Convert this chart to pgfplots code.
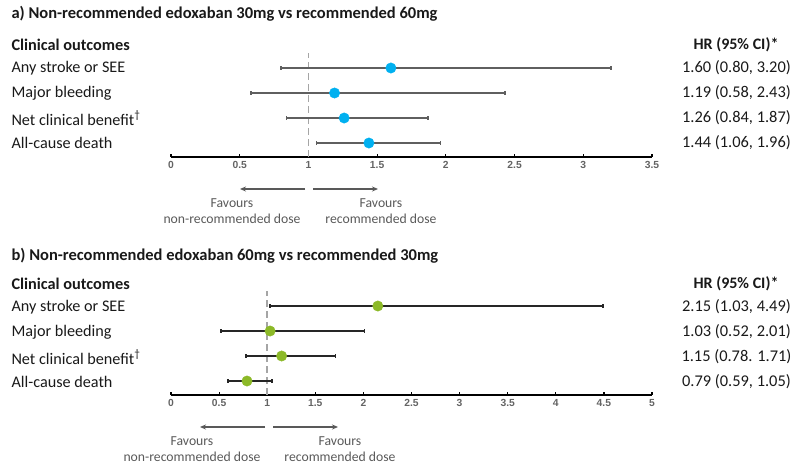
\documentclass[border=0pt]{standalone}
\usepackage{pgfplots}
\pgfplotsset{compat=1.18}
\usepackage{fontspec}
\setmainfont{Carlito}
\newfontfamily\tickfont{Liberation Sans}
\usetikzlibrary{arrows.meta}

\definecolor{ablue}{RGB}{0,176,240}
\definecolor{bgreen}{RGB}{140,185,40}
\definecolor{ciA}{RGB}{95,95,95}
\definecolor{ciB}{RGB}{38,38,38}
\definecolor{txt}{RGB}{25,25,25}
\definecolor{favc}{RGB}{89,89,89}
\definecolor{dashc}{RGB}{165,165,165}
\definecolor{tickc}{RGB}{100,100,100}

\pgfplotsset{forest/.style={
  scale only axis, width=481pt, height=104pt,
  ymin=0, ymax=104,
  axis x line=bottom, axis y line=none,
  axis line style={line width=1.8pt, -},
  major tick length=3.5pt, tick align=inside,
  xtick style={line width=1.2pt, black},
  /pgf/number format/assume math mode=true,
  xticklabel style={font=\tickfont\bfseries\fontsize{10.3}{12}\selectfont, text=tickc, yshift=-1pt},
  clip=false, anchor=south west},
  ci/.style={line width=1.8pt, mark=|, mark size=1.6pt, mark options={solid, line width=1.6pt}},
  refline/.style={dashc, line width=1.7pt, dash pattern=on 7pt off 4pt}
}

\begin{document}
\begin{tikzpicture}
\useasboundingbox (0,0) rectangle (793pt,-467pt);

% ---------- Panel a ----------
\begin{axis}[forest, at={(171pt,-157pt)}, xmin=0, xmax=3.5,
  xtick={0,0.5,1,1.5,2,2.5,3,3.5}]
\addplot[refline] coordinates {(1,0) (1,104)};
\addplot[ci, ciA] coordinates {(0.80,89) (3.20,89)};
\addplot[ci, ciA] coordinates {(0.58,64) (2.43,64)};
\addplot[ci, ciA] coordinates {(0.84,39) (1.87,39)};
\addplot[ci, ciA] coordinates {(1.06,14) (1.96,14)};
\addplot[only marks, mark=*, mark size=5.2pt, ablue, mark options={draw=ablue, fill=ablue}]
  coordinates {(1.60,89) (1.19,64) (1.26,39) (1.44,14)};
\end{axis}

\node[anchor=west, text=txt, font=\bfseries\fontsize{16.5}{19}\selectfont] at (8pt,-14pt) {a) Non-recommended edoxaban 30mg vs recommended 60mg};
\node[anchor=west, text=txt, font=\bfseries\fontsize{16.3}{19}\selectfont] at (8pt,-45pt) {Clinical outcomes};
\node[anchor=center, text=txt, font=\bfseries\fontsize{16}{19}\selectfont] at (736pt,-45pt) {HR (95\% CI)*};
\begin{scope}[every node/.style={font=\fontsize{16.2}{19}\selectfont, text=txt}]
\node[anchor=west] at (8pt,-68pt) {Any stroke or SEE};
\node[anchor=west] at (8pt,-93pt) {Major bleeding};
\node[anchor=west] at (8pt,-118pt) {Net clinical benefit\textsuperscript{†}};
\node[anchor=west] at (8pt,-143pt) {All-cause death};
\end{scope}
\begin{scope}[every node/.style={font=\fontsize{16.4}{19}\selectfont, text=txt, anchor=center}]
\node at (736.5pt,-68pt) {1.60 (0.80, 3.20)};
\node at (736.5pt,-93pt) {1.19 (0.58, 2.43)};
\node at (736.5pt,-118pt) {1.26 (0.84, 1.87)};
\node at (736.5pt,-143pt) {1.44 (1.06, 1.96)};
\end{scope}
\draw[favc, line width=1.3pt, -{Stealth[length=6pt,width=5pt]}] (305pt,-189pt) -- (240pt,-189pt);
\draw[favc, line width=1.3pt, -{Stealth[length=6pt,width=5pt]}] (313pt,-189pt) -- (378pt,-189pt);
\begin{scope}[every node/.style={font=\fontsize{13.7}{16}\selectfont, text=favc, anchor=center}]
\node at (232pt,-203pt) {Favours};
\node at (232pt,-219pt) {non-recommended dose};
\node at (381pt,-203pt) {Favours};
\node at (381pt,-219pt) {recommended dose};
\end{scope}

% ---------- Panel b ----------
\begin{axis}[forest, at={(171pt,-395pt)}, xmin=0, xmax=5,
  xtick={0,0.5,1,1.5,2,2.5,3,3.5,4,4.5,5}]
\addplot[refline] coordinates {(1,0) (1,104)};
\addplot[ci, ciB] coordinates {(1.03,89) (4.49,89)};
\addplot[ci, ciB] coordinates {(0.52,64) (2.01,64)};
\addplot[ci, ciB] coordinates {(0.78,39) (1.71,39)};
\addplot[ci, ciB] coordinates {(0.59,14) (1.05,14)};
\addplot[only marks, mark=*, mark size=5.2pt, bgreen, mark options={draw=bgreen, fill=bgreen}]
  coordinates {(2.15,89) (1.03,64) (1.15,39) (0.79,14)};
\end{axis}

\node[anchor=west, text=txt, font=\bfseries\fontsize{16.5}{19}\selectfont] at (8pt,-256pt) {b) Non-recommended edoxaban 60mg vs recommended 30mg};
\node[anchor=west, text=txt, font=\bfseries\fontsize{16.3}{19}\selectfont] at (8pt,-284pt) {Clinical outcomes};
\node[anchor=center, text=txt, font=\bfseries\fontsize{16}{19}\selectfont] at (736pt,-284pt) {HR (95\% CI)*};
\begin{scope}[every node/.style={font=\fontsize{16.2}{19}\selectfont, text=txt}]
\node[anchor=west] at (8pt,-307pt) {Any stroke or SEE};
\node[anchor=west] at (8pt,-332pt) {Major bleeding};
\node[anchor=west] at (8pt,-357pt) {Net clinical benefit\textsuperscript{†}};
\node[anchor=west] at (8pt,-382pt) {All-cause death};
\end{scope}
\begin{scope}[every node/.style={font=\fontsize{16.4}{19}\selectfont, text=txt, anchor=center}]
\node at (736.5pt,-307pt) {2.15 (1.03, 4.49)};
\node at (736.5pt,-332pt) {1.03 (0.52, 2.01)};
\node at (736.5pt,-357pt) {1.15 (0.78. 1.71)};
\node at (736.5pt,-382pt) {0.79 (0.59, 1.05)};
\end{scope}
\draw[favc, line width=1.3pt, -{Stealth[length=6pt,width=5pt]}] (265pt,-427pt) -- (200pt,-427pt);
\draw[favc, line width=1.3pt, -{Stealth[length=6pt,width=5pt]}] (273pt,-427pt) -- (338pt,-427pt);
\begin{scope}[every node/.style={font=\fontsize{13.7}{16}\selectfont, text=favc, anchor=center}]
\node at (192pt,-441pt) {Favours};
\node at (192pt,-457pt) {non-recommended dose};
\node at (340pt,-441pt) {Favours};
\node at (340pt,-457pt) {recommended dose};
\end{scope}
\end{tikzpicture}
\end{document}
